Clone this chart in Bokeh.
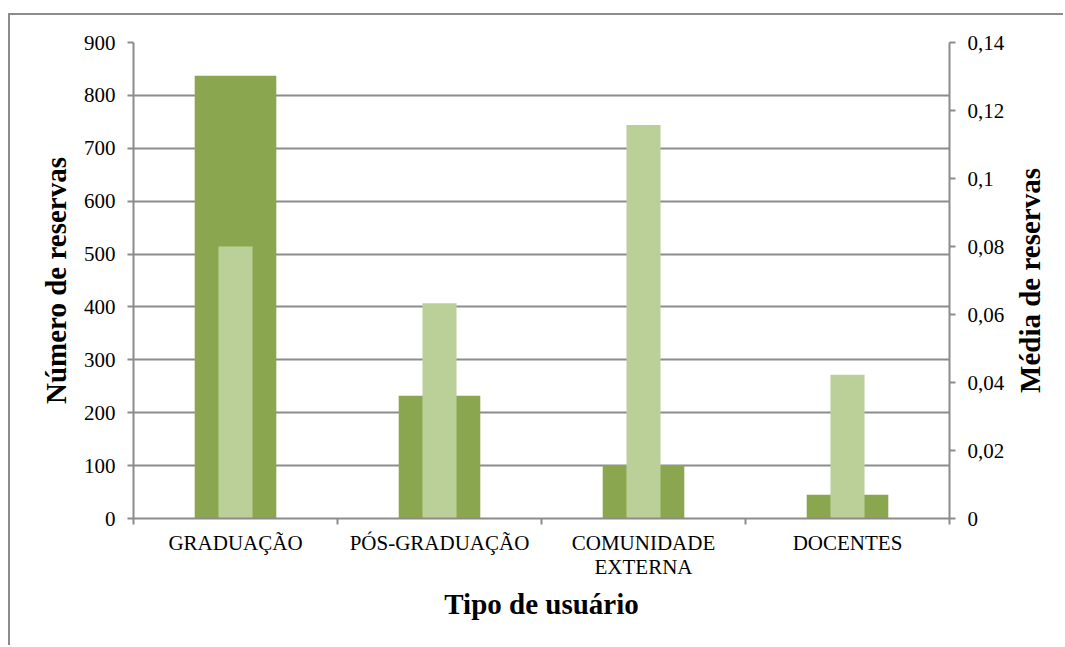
import math
from bokeh.plotting import figure
from bokeh.layouts import row
from bokeh.models import (Range1d, LinearAxis, FixedTicker, CustomJSTickFormatter,
                          ColumnDataSource, Label)
from bokeh.embed import file_html
from bokeh.resources import INLINE

categorias = ["GRADUAÇÃO", "PÓS-GRADUAÇÃO", "COMUNIDADE\nEXTERNA", "DOCENTES"]
numero_reservas = [837, 232, 101, 45]
media_reservas = [0.080, 0.0633, 0.1157, 0.0423]
ticks_numero = [0, 100, 200, 300, 400, 500, 600, 700, 800, 900]
ticks_media = [0, 0.02, 0.04, 0.06, 0.08, 0.10, 0.12, 0.14]

x_centros = [i + 0.5 for i in range(len(categorias))]
src = ColumnDataSource(dict(x=x_centros, num=numero_reservas, med=media_reservas))

FONT = "Liberation Serif"
GRID = "#8c8c8c"
TICK_FS = "21px"
TITLE_FS = "29px"

p = figure(output_backend="svg", toolbar_location=None,
           x_range=Range1d(0, len(categorias)), y_range=Range1d(0, 900),
           frame_width=816, frame_height=476)
p.min_border_left = 123
p.min_border_right = 60
p.min_border_top = 27
p.min_border_bottom = 127
p.outline_line_color = None
p.background_fill_color = "white"

p.extra_y_ranges = {"media": Range1d(0, 0.14)}

p.vbar(x="x", top="num", width=0.4, source=src, fill_color="#8aa64f", line_color=None)
p.vbar(x="x", top="med", width=0.167, source=src, fill_color="#bbd098", line_color=None,
       y_range_name="media")

# x axis
xa = p.xaxis[0]
xa.ticker = FixedTicker(ticks=x_centros, minor_ticks=list(range(len(categorias) + 1)))
xa.major_label_overrides = {x: c for x, c in zip(x_centros, categorias)}
xa.major_tick_out = 0
xa.major_tick_in = 0
xa.minor_tick_out = 6
xa.minor_tick_in = 0
xa.minor_tick_line_color = GRID
xa.minor_tick_line_width = 2
xa.axis_line_color = GRID
xa.axis_line_width = 2
xa.major_label_text_font = FONT
xa.major_label_text_font_size = TICK_FS
xa.major_label_text_line_height = 1.0
xa.major_label_text_color = "black"
xa.major_label_standoff = 6
xa.axis_label = "Tipo de usuário"
xa.axis_label_text_font = FONT
xa.axis_label_text_font_size = TITLE_FS
xa.axis_label_text_font_style = "bold"
xa.axis_label_text_color = "black"
xa.axis_label_standoff = 6

# left axis
ya = p.yaxis[0]
ya.ticker = FixedTicker(ticks=ticks_numero)
ya.minor_tick_line_color = None
ya.major_tick_out = 6
ya.major_tick_in = 0
ya.major_tick_line_color = GRID
ya.major_tick_line_width = 2
ya.axis_line_color = GRID
ya.axis_line_width = 2
ya.major_label_text_font = FONT
ya.major_label_text_font_size = TICK_FS
ya.major_label_text_color = "black"
ya.major_label_standoff = 12
ya.axis_label = "Número de reservas"
ya.axis_label_text_font = FONT
ya.axis_label_text_font_size = TITLE_FS
ya.axis_label_text_font_style = "bold"
ya.axis_label_text_color = "black"
ya.axis_label_standoff = 9

# right axis
ra = LinearAxis(y_range_name="media", ticker=FixedTicker(ticks=ticks_media))
ra.formatter = CustomJSTickFormatter(code="""
    let s = tick.toFixed(2).replace(/0+$/, '').replace(/\\.$/, '');
    return s.replace('.', ',');
""")
ra.minor_tick_line_color = None
ra.major_tick_out = 6
ra.major_tick_in = 0
ra.major_tick_line_color = GRID
ra.major_tick_line_width = 2
ra.axis_line_color = GRID
ra.axis_line_width = 2
ra.major_label_text_font = FONT
ra.major_label_text_font_size = TICK_FS
ra.major_label_text_color = "black"
ra.major_label_standoff = 12
p.add_layout(ra, "right")

p.xgrid.grid_line_color = None
p.ygrid.ticker = FixedTicker(ticks=ticks_numero)
p.ygrid.grid_line_color = GRID
p.ygrid.grid_line_width = 2

# narrow companion panel holding the right-hand axis title (reads bottom-to-top)
p2 = figure(output_backend="svg", toolbar_location=None,
            x_range=Range1d(0, 54), y_range=Range1d(0, 900),
            frame_width=54, frame_height=476,
            x_axis_type=None, y_axis_type=None)
p2.min_border_left = 0
p2.min_border_right = 0
p2.min_border_top = 27
p2.min_border_bottom = 127
p2.outline_line_color = None
p2.grid.visible = False
p2.add_layout(Label(x=20, y=450, angle=math.pi / 2,
                    text="Média de reservas", text_font=FONT, text_font_size=TITLE_FS,
                    text_font_style="bold", text_color="black",
                    text_align="center", text_baseline="middle"))

layout = row(p, p2, spacing=0,
             styles={"margin-left": "8px", "margin-top": "13px",
                     "border-left": "2px solid #8c8c8c", "border-top": "2px solid #8c8c8c"})

open("out.html", "w").write(file_html(layout, INLINE))
